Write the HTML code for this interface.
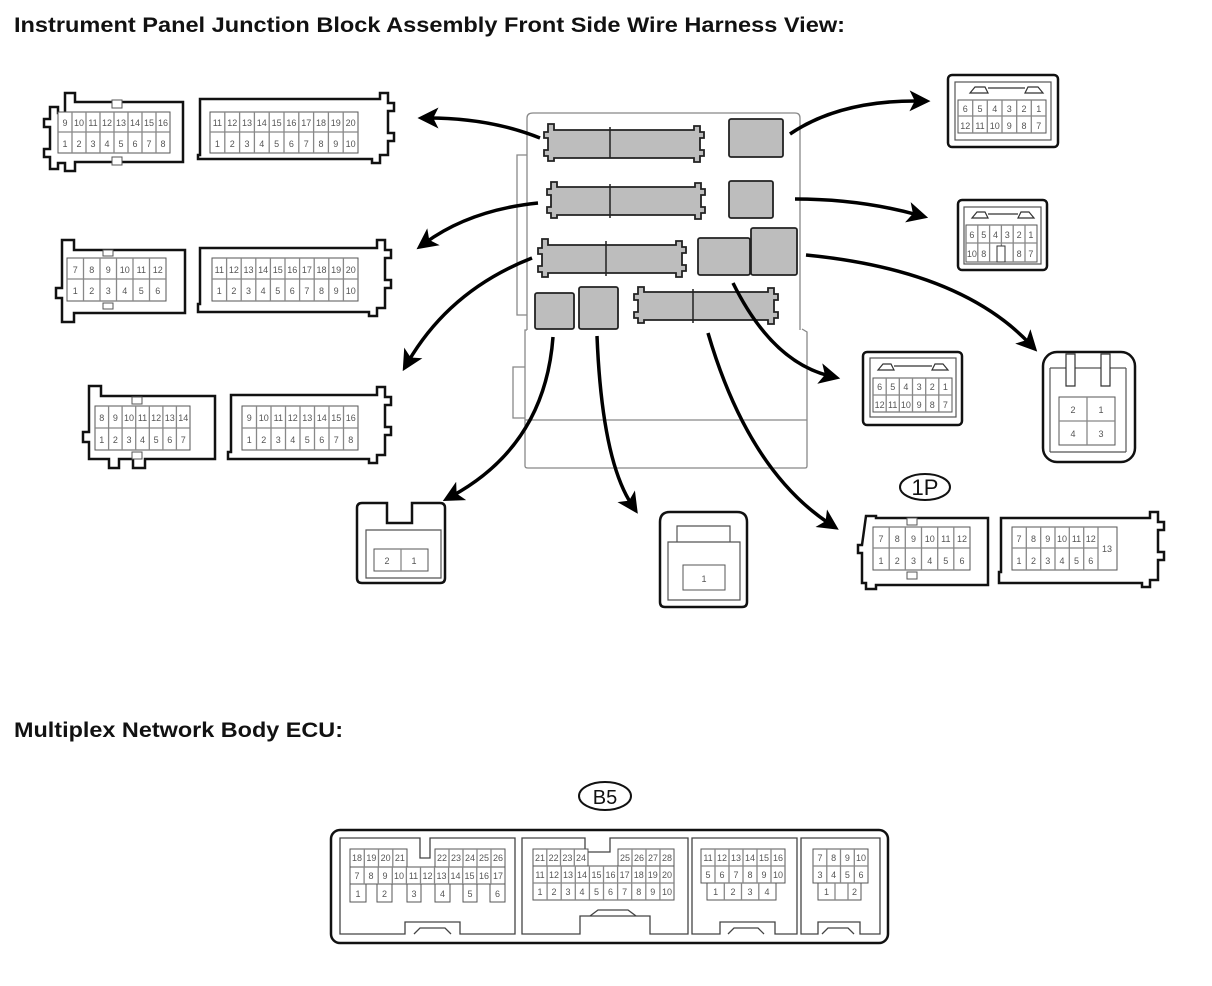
<!DOCTYPE html>
<html><head><meta charset="utf-8"><style>
html,body{margin:0;padding:0;background:#fff}
svg{display:block}
.t{font-family:"Liberation Sans",sans-serif;font-weight:bold;font-size:21px;fill:#111}
.c{font-family:"Liberation Sans",sans-serif;font-size:9px;fill:#555;text-anchor:middle}
.o{fill:#fff;stroke:#111;stroke-width:2.5}
.g{fill:#fff;stroke:#555;stroke-width:1}
.s{fill:#bdbdbd;stroke:#222;stroke-width:1.8}
.a{fill:none;stroke:#000;stroke-width:3.5;marker-end:url(#ar)}
.l{fill:none;stroke:#888;stroke-width:1.3}
</style></head><body>
<svg width="1212" height="986" viewBox="0 0 1212 986" xmlns="http://www.w3.org/2000/svg">
<defs>
<marker id="ar" markerWidth="6" markerHeight="6" refX="3" refY="3" orient="auto" markerUnits="strokeWidth"><path d="M0,0 L6,3 L0,6 L1.5,3 z" fill="#000"/></marker>
</defs>

<text x="14" y="32" class="t" textLength="831" lengthAdjust="spacingAndGlyphs">Instrument Panel Junction Block Assembly Front Side Wire Harness View:</text>
<text x="14" y="737" class="t" textLength="329" lengthAdjust="spacingAndGlyphs">Multiplex Network Body ECU:</text>

<!-- ROW 1 left -->
<path class="o" d="M65,93 h10 v9 h108 v60 h-108 v9 h-10 v-8 h-7 v6 h-8 v-12 h-6 v-8 h6 v-22 h-6 v-8 h6 v-12 h8 v6 h7 z"/>
<rect class="g" x="58" y="112" width="112" height="41"/>
<path class="l" d="M58,132 H170 M72,112 V153 M86,112 V153 M100,112 V153 M114,112 V153 M128,112 V153 M142,112 V153 M156,112 V153"/>
<rect class="g" x="112" y="100" width="10" height="8"/><rect class="g" x="112" y="157" width="10" height="8"/>
<g class="c"><text x="65" y="126">9</text><text x="79" y="126">10</text><text x="93" y="126">11</text><text x="107" y="126">12</text><text x="121" y="126">13</text><text x="135" y="126">14</text><text x="149" y="126">15</text><text x="163" y="126">16</text>
<text x="65" y="147">1</text><text x="79" y="147">2</text><text x="93" y="147">3</text><text x="107" y="147">4</text><text x="121" y="147">5</text><text x="135" y="147">6</text><text x="149" y="147">7</text><text x="163" y="147">8</text></g>
<!-- ROW 1 right -->
<path class="o" d="M200,99 H380 v-6 h8 v10 h6 v8 h-6 v22 h6 v8 h-6 v14 h-8 v8 h-8 v-4 H198 V155 H200 Z"/>
<rect class="g" x="210" y="112" width="148" height="41"/>
<path class="l" d="M210,132 H358 M224.8,112V153 M239.6,112V153 M254.4,112V153 M269.2,112V153 M284,112V153 M298.8,112V153 M313.6,112V153 M328.4,112V153 M343.2,112V153"/>
<g class="c"><text x="217.4" y="126">11</text><text x="232.2" y="126">12</text><text x="247" y="126">13</text><text x="261.8" y="126">14</text><text x="276.6" y="126">15</text><text x="291.4" y="126">16</text><text x="306.2" y="126">17</text><text x="321" y="126">18</text><text x="335.8" y="126">19</text><text x="350.6" y="126">20</text>
<text x="217.4" y="147">1</text><text x="232.2" y="147">2</text><text x="247" y="147">3</text><text x="261.8" y="147">4</text><text x="276.6" y="147">5</text><text x="291.4" y="147">6</text><text x="306.2" y="147">7</text><text x="321" y="147">8</text><text x="335.8" y="147">9</text><text x="350.6" y="147">10</text></g>

<!-- ROW 2 left -->
<path class="o" d="M62,240 h12 v10 h111 v63 h-111 v9 h-12 v-24 h-6 v-10 h6 z"/>
<rect class="g" x="67" y="258" width="99" height="43"/>
<path class="l" d="M67,279 H166 M83.5,258V301 M100,258V301 M116.5,258V301 M133,258V301 M149.5,258V301"/>
<rect class="g" x="103" y="250" width="10" height="6"/><rect class="g" x="103" y="303" width="10" height="6"/>
<g class="c"><text x="75.3" y="273">7</text><text x="91.8" y="273">8</text><text x="108.3" y="273">9</text><text x="124.8" y="273">10</text><text x="141.3" y="273">11</text><text x="157.8" y="273">12</text>
<text x="75.3" y="294">1</text><text x="91.8" y="294">2</text><text x="108.3" y="294">3</text><text x="124.8" y="294">4</text><text x="141.3" y="294">5</text><text x="157.8" y="294">6</text></g>
<!-- ROW 2 right -->
<path class="o" d="M200,248 H377 v-8 h8 v10 h6 v8 h-6 v22 h6 v8 h-6 v20 h-8 v8 h-8 v-4 H198 V304 H200 Z"/>
<rect class="g" x="212" y="258" width="146" height="43"/>
<path class="l" d="M212,279 H358 M226.6,258V301 M241.2,258V301 M255.8,258V301 M270.4,258V301 M285,258V301 M299.6,258V301 M314.2,258V301 M328.8,258V301 M343.4,258V301"/>
<g class="c"><text x="219.3" y="273">11</text><text x="233.9" y="273">12</text><text x="248.5" y="273">13</text><text x="263.1" y="273">14</text><text x="277.7" y="273">15</text><text x="292.3" y="273">16</text><text x="306.9" y="273">17</text><text x="321.5" y="273">18</text><text x="336.1" y="273">19</text><text x="350.7" y="273">20</text>
<text x="219.3" y="294">1</text><text x="233.9" y="294">2</text><text x="248.5" y="294">3</text><text x="263.1" y="294">4</text><text x="277.7" y="294">5</text><text x="292.3" y="294">6</text><text x="306.9" y="294">7</text><text x="321.5" y="294">8</text><text x="336.1" y="294">9</text><text x="350.7" y="294">10</text></g>

<!-- ROW 3 left -->
<path class="o" d="M89,386 H101 V396 H215 V459 H145 V468 H133 V459 H119 V468 H109 V459 H89 V442 H83 V432 H89 Z"/>
<rect class="g" x="95" y="406" width="95" height="44"/>
<path class="l" d="M95,428 H190 M108.6,406V450 M122.1,406V450 M135.7,406V450 M149.3,406V450 M162.9,406V450 M176.4,406V450"/>
<rect class="g" x="132" y="397" width="10" height="7"/><rect class="g" x="132" y="452" width="10" height="7"/>
<g class="c"><text x="101.8" y="421">8</text><text x="115.4" y="421">9</text><text x="129" y="421">10</text><text x="142.5" y="421">11</text><text x="156.1" y="421">12</text><text x="169.7" y="421">13</text><text x="183.2" y="421">14</text>
<text x="101.8" y="443">1</text><text x="115.4" y="443">2</text><text x="129" y="443">3</text><text x="142.5" y="443">4</text><text x="156.1" y="443">5</text><text x="169.7" y="443">6</text><text x="183.2" y="443">7</text></g>
<!-- ROW 3 right -->
<path class="o" d="M231,395 H377 v-8 h8 v10 h6 v8 h-6 v22 h6 v8 h-6 v20 h-8 v8 h-8 v-4 H228 V452 H231 Z"/>
<rect class="g" x="242" y="406" width="116" height="44"/>
<path class="l" d="M242,428 H358 M256.5,406V450 M271,406V450 M285.5,406V450 M300,406V450 M314.5,406V450 M329,406V450 M343.5,406V450"/>
<g class="c"><text x="249.3" y="421">9</text><text x="263.8" y="421">10</text><text x="278.3" y="421">11</text><text x="292.8" y="421">12</text><text x="307.3" y="421">13</text><text x="321.8" y="421">14</text><text x="336.3" y="421">15</text><text x="350.8" y="421">16</text>
<text x="249.3" y="443">1</text><text x="263.8" y="443">2</text><text x="278.3" y="443">3</text><text x="292.8" y="443">4</text><text x="307.3" y="443">5</text><text x="321.8" y="443">6</text><text x="336.3" y="443">7</text><text x="350.8" y="443">8</text></g>

<!-- JUNCTION BLOCK -->
<path d="M533,113 H795 Q800,113 800,118 V330" fill="none" stroke="#888" stroke-width="1.3"/>
<path d="M533,113 Q527,113 527,118 V330" fill="none" stroke="#888" stroke-width="1.3"/>
<path d="M527,330 H525 V466 Q525,468 528,468 H805 Q807,468 807,466 V332 L802,329" fill="none" stroke="#888" stroke-width="1.3"/>
<path d="M525,420 H807" stroke="#888" stroke-width="1.3"/>
<path d="M527,155 H517 V315 H527" fill="none" stroke="#888" stroke-width="1.3"/>
<path d="M525,367 H513 V418 H525" fill="none" stroke="#888" stroke-width="1.3"/>
<g>
<path class="s" d="M548,124 h6 v6 h140 v-4 h6 v6 h4 v6 h-4 v12 h4 v6 h-4 v6 h-6 v-4 h-140 v3 h-6 v-5 h-4 v-6 h4 v-12 h-4 v-6 h4 z"/>
<rect class="s" x="729" y="119" width="54" height="38" rx="2"/>
<path class="s" d="M551,182 h6 v5 h138 v-4 h6 v6 h4 v6 h-4 v12 h4 v6 h-4 v6 h-6 v-4 h-138 v3 h-6 v-5 h-4 v-6 h4 v-12 h-4 v-6 h4 z"/>
<rect class="s" x="729" y="181" width="44" height="37" rx="2"/>
<path class="s" d="M542,239 h6 v6 h128 v-4 h6 v6 h4 v6 h-4 v12 h4 v6 h-4 v6 h-6 v-4 h-128 v4 h-6 v-5 h-4 v-6 h4 v-12 h-4 v-6 h4 z"/>
<rect class="s" x="698" y="238" width="52" height="37" rx="2"/>
<rect class="s" x="751" y="228" width="46" height="47" rx="2"/>
<rect class="s" x="535" y="293" width="39" height="36" rx="2"/>
<rect class="s" x="579" y="287" width="39" height="42" rx="2"/>
<path class="s" d="M638,287 h6 v5 h124 v-4 h6 v6 h4 v6 h-4 v12 h4 v6 h-4 v6 h-6 v-4 h-124 v3 h-6 v-5 h-4 v-6 h4 v-12 h-4 v-6 h4 z"/>
</g>
<path d="M610,127 V158 M610,184 V218 M606,241 V276 M693,289 V323" stroke="#222" stroke-width="1.5"/>

<!-- ARROWS -->
<path class="a" d="M540,138 Q490,118 428,118"/>
<path class="a" d="M538,203 Q470,210 425,243"/>
<path class="a" d="M532,258 Q450,290 408,362"/>
<path class="a" d="M553,337 Q545,445 452,496"/>
<path class="a" d="M597,336 Q602,460 632,505"/>
<path class="a" d="M708,333 Q748,470 830,524"/>
<path class="a" d="M733,283 Q772,362 830,376"/>
<path class="a" d="M806,255 Q960,270 1030,344"/>
<path class="a" d="M790,134 Q840,100 920,101"/>
<path class="a" d="M795,199 Q860,199 918,215"/>

<!-- RIGHT A -->
<rect class="o" x="948" y="75" width="110" height="72" rx="4"/>
<rect x="955" y="82" width="96" height="58" fill="none" stroke="#555" stroke-width="1.2"/>
<path d="M970,93 l5,-6 h10 l3,6 z M1025,93 l3,-6 h10 l5,6 z M988,88 h37" fill="none" stroke="#333" stroke-width="1.2"/>
<rect class="g" x="958" y="100" width="88" height="33"/>
<path class="l" d="M958,116 H1046 M972.7,100V133 M987.3,100V133 M1002,100V133 M1016.7,100V133 M1031.3,100V133"/>
<g class="c"><text x="965.3" y="112">6</text><text x="980" y="112">5</text><text x="994.7" y="112">4</text><text x="1009.3" y="112">3</text><text x="1024" y="112">2</text><text x="1038.7" y="112">1</text>
<text x="965.3" y="129">12</text><text x="980" y="129">11</text><text x="994.7" y="129">10</text><text x="1009.3" y="129">9</text><text x="1024" y="129">8</text><text x="1038.7" y="129">7</text></g>
<!-- RIGHT B -->
<rect class="o" x="958" y="200" width="89" height="70" rx="4"/>
<rect x="964" y="207" width="77" height="57" fill="none" stroke="#555" stroke-width="1.2"/>
<path d="M972,218 l5,-6 h8 l3,6 z M1018,218 l3,-6 h8 l5,6 z M988,214 h30" fill="none" stroke="#333" stroke-width="1.2"/>
<rect class="g" x="966" y="225" width="71" height="37"/>
<path class="l" d="M966,243 H1037 M977.8,225V262 M989.6,225V262 M1001.4,225V262 M1013.2,225V262 M1025,225V262"/>
<rect x="997" y="246" width="8" height="16" fill="#fff" stroke="#333"/>
<g class="c"><text x="971.9" y="238">6</text><text x="983.7" y="238">5</text><text x="995.5" y="238">4</text><text x="1007.3" y="238">3</text><text x="1019.1" y="238">2</text><text x="1030.9" y="238">1</text>
<text x="971.9" y="257">10</text><text x="983.7" y="257">8</text><text x="1019.1" y="257">8</text><text x="1030.9" y="257">7</text></g>
<!-- RIGHT C -->
<rect class="o" x="863" y="352" width="99" height="73" rx="4"/>
<rect x="870" y="358" width="86" height="59" fill="none" stroke="#555" stroke-width="1.2"/>
<path d="M878,370 l5,-6 h8 l3,6 z M932,370 l3,-6 h8 l5,6 z M894,366 h38" fill="none" stroke="#333" stroke-width="1.2"/>
<rect class="g" x="873" y="378" width="79" height="34"/>
<path class="l" d="M873,395 H952 M886.2,378V412 M899.3,378V412 M912.5,378V412 M925.7,378V412 M938.8,378V412"/>
<g class="c"><text x="879.6" y="390">6</text><text x="892.7" y="390">5</text><text x="905.9" y="390">4</text><text x="919.1" y="390">3</text><text x="932.3" y="390">2</text><text x="945.4" y="390">1</text>
<text x="879.6" y="408">12</text><text x="892.7" y="408">11</text><text x="905.9" y="408">10</text><text x="919.1" y="408">9</text><text x="932.3" y="408">8</text><text x="945.4" y="408">7</text></g>
<!-- RIGHT D -->
<rect class="o" x="1043" y="352" width="92" height="110" rx="14"/>
<path d="M1050,368 h76 M1050,452 h76 M1050,368 v84 M1126,368 v84" fill="none" stroke="#555" stroke-width="1.2"/>
<path d="M1066,386 v-32 h9 v32 z M1101,386 v-32 h9 v32 z" fill="#fff" stroke="#333" stroke-width="1.2"/>
<rect class="g" x="1059" y="397" width="56" height="48"/>
<path class="l" d="M1059,421 H1115 M1087,397V445"/>
<g class="c"><text x="1073" y="413">2</text><text x="1101" y="413">1</text><text x="1073" y="437">4</text><text x="1101" y="437">3</text></g>

<!-- 1P -->
<ellipse cx="925" cy="487" rx="25" ry="13" fill="#fff" stroke="#111" stroke-width="2"/>
<text x="925" y="495" font-family="Liberation Sans,sans-serif" font-size="22" text-anchor="middle" fill="#111">1P</text>
<path class="o" d="M866,516 h10 v2 h112 v67 h-112 v4 h-10 v-6 h-4 v-30 h-4 v-8 h4 z"/>
<rect class="g" x="873" y="527" width="97" height="43"/>
<path class="l" d="M873,548 H970 M889.2,527V570 M905.3,527V570 M921.5,527V570 M937.7,527V570 M953.8,527V570"/>
<rect class="g" x="907" y="518" width="10" height="7"/><rect class="g" x="907" y="572" width="10" height="7"/>
<g class="c"><text x="881" y="542">7</text><text x="897.3" y="542">8</text><text x="913.5" y="542">9</text><text x="929.7" y="542">10</text><text x="945.8" y="542">11</text><text x="962" y="542">12</text>
<text x="881" y="564">1</text><text x="897.3" y="564">2</text><text x="913.5" y="564">3</text><text x="929.7" y="564">4</text><text x="945.8" y="564">5</text><text x="962" y="564">6</text></g>
<path class="o" d="M1001,518 H1150 v-6 h8 v10 h6 v8 h-6 v22 h6 v8 h-6 v20 h-8 v7 h-8 v-4 H999 V572 H1001 Z"/>
<rect class="g" x="1012" y="527" width="105" height="43"/>
<path class="l" d="M1012,548 H1098 M1026.3,527V570 M1040.7,527V570 M1055,527V570 M1069.3,527V570 M1083.7,527V570 M1098,527V570"/>
<g class="c"><text x="1019" y="542">7</text><text x="1033.5" y="542">8</text><text x="1047.8" y="542">9</text><text x="1062" y="542">10</text><text x="1076.5" y="542">11</text><text x="1090.8" y="542">12</text><text x="1107" y="552">13</text>
<text x="1019" y="564">1</text><text x="1033.5" y="564">2</text><text x="1047.8" y="564">3</text><text x="1062" y="564">4</text><text x="1076.5" y="564">5</text><text x="1090.8" y="564">6</text></g>

<!-- BOTTOM F -->
<path class="o" d="M362,503 h25 v20 h25 v-20 h28 q5,0 5,5 v70 q0,5 -5,5 h-78 q-5,0 -5,-5 v-70 q0,-5 5,-5 z"/>
<path d="M366,530 h75 v48 h-75 z" fill="none" stroke="#555" stroke-width="1.2"/>
<rect class="g" x="374" y="549" width="54" height="22"/><path class="l" d="M401,549V571"/>
<g class="c"><text x="387" y="564">2</text><text x="414" y="564">1</text></g>
<!-- BOTTOM G -->
<path class="o" d="M660,522 q0,-10 10,-10 h67 q10,0 10,10 v80 q0,5 -5,5 h-77 q-5,0 -5,-5 z"/>
<path d="M668,542 h72 v58 h-72 z M677,542 v-16 h53 v16" fill="none" stroke="#555" stroke-width="1.2"/>
<rect class="g" x="683" y="565" width="42" height="25"/>
<text class="c" x="704" y="582">1</text>

<!-- B5 -->
<ellipse cx="605" cy="796" rx="26" ry="14" fill="#fff" stroke="#111" stroke-width="2"/>
<text x="605" y="804" font-family="Liberation Sans,sans-serif" font-size="20" text-anchor="middle" fill="#111">B5</text>
<rect class="o" x="331" y="830" width="557" height="113" rx="9"/>
<g fill="none" stroke="#444" stroke-width="1.3">
<path d="M340,838 H420 V858 H430 V838 H515 V934 H460 V922 H405 V934 H340 Z"/>
<path d="M414,934 L420,928 H445 L451,934"/>
<path d="M522,838 H585 V852 H610 V838 H688 V934 H650 V916 H580 V934 H522 Z"/>
<path d="M590,916 L598,910 H628 L636,916"/>
<path d="M692,838 H797 V934 H775 V922 H720 V934 H692 Z"/>
<path d="M728,934 L734,928 H758 L764,934"/>
<path d="M801,838 H880 V934 H860 V922 H818 V934 H801 Z"/>
<path d="M822,934 L828,928 H848 L854,934"/>
</g>
<!-- sec1 grid -->
<g class="g"><rect x="350" y="849" width="57" height="18"/><rect x="435" y="849" width="70" height="18"/><rect x="350" y="867" width="155" height="17"/>
<rect x="350" y="884" width="16" height="18"/><rect x="377" y="884" width="15" height="18"/><rect x="407" y="884" width="14" height="18"/><rect x="435" y="884" width="15" height="18"/><rect x="463" y="884" width="14" height="18"/><rect x="490" y="884" width="15" height="18"/></g>
<path class="l" d="M364.3,849V867 M378.5,849V867 M392.8,849V867 M449,849V867 M463,849V867 M477,849V867 M491,849V867 M364.1,867V884 M378.2,867V884 M392.3,867V884 M406.4,867V884 M420.5,867V884 M434.5,867V884 M448.6,867V884 M462.7,867V884 M476.8,867V884 M490.9,867V884"/>
<g class="c" font-size="8"><text x="357" y="861">18</text><text x="371.4" y="861">19</text><text x="385.6" y="861">20</text><text x="399.9" y="861">21</text><text x="442" y="861">22</text><text x="456" y="861">23</text><text x="470" y="861">24</text><text x="484" y="861">25</text><text x="498" y="861">26</text>
<text x="357" y="879">7</text><text x="371" y="879">8</text><text x="385" y="879">9</text><text x="399" y="879">10</text><text x="413.5" y="879">11</text><text x="427.5" y="879">12</text><text x="441.5" y="879">13</text><text x="455.5" y="879">14</text><text x="469.5" y="879">15</text><text x="484" y="879">16</text><text x="498" y="879">17</text>
<text x="358" y="897">1</text><text x="384.5" y="897">2</text><text x="414" y="897">3</text><text x="442.5" y="897">4</text><text x="470" y="897">5</text><text x="497.5" y="897">6</text></g>
<!-- sec2 grid -->
<g class="g"><rect x="533" y="849" width="55" height="17"/><rect x="618" y="849" width="56" height="17"/><rect x="533" y="866" width="141" height="34"/></g>
<path class="l" d="M533,883 H674 M546.8,849V866 M560.5,849V866 M574.3,849V866 M632,849V866 M646,849V866 M660,849V866 M547.1,866V900 M561.2,866V900 M575.3,866V900 M589.4,866V900 M603.5,866V900 M617.6,866V900 M631.7,866V900 M645.8,866V900 M659.9,866V900"/>
<g class="c" font-size="8"><text x="540" y="861">21</text><text x="553.6" y="861">22</text><text x="567.4" y="861">23</text><text x="581" y="861">24</text><text x="625" y="861">25</text><text x="639" y="861">26</text><text x="653" y="861">27</text><text x="667" y="861">28</text>
<text x="540" y="878">11</text><text x="554" y="878">12</text><text x="568" y="878">13</text><text x="582" y="878">14</text><text x="596.5" y="878">15</text><text x="610.5" y="878">16</text><text x="624.6" y="878">17</text><text x="638.7" y="878">18</text><text x="652.8" y="878">19</text><text x="667" y="878">20</text>
<text x="540" y="895">1</text><text x="554" y="895">2</text><text x="568" y="895">3</text><text x="582" y="895">4</text><text x="596.5" y="895">5</text><text x="610.5" y="895">6</text><text x="624.6" y="895">7</text><text x="638.7" y="895">8</text><text x="652.8" y="895">9</text><text x="667" y="895">10</text></g>
<!-- sec3 grid -->
<g class="g"><rect x="701" y="849" width="84" height="34"/><rect x="707" y="883" width="69" height="17"/></g>
<path class="l" d="M701,866 H785 M715,849V883 M729,849V883 M743,849V883 M757,849V883 M771,849V883 M724.3,883V900 M741.5,883V900 M758.8,883V900"/>
<g class="c" font-size="8"><text x="708" y="861">11</text><text x="722" y="861">12</text><text x="736" y="861">13</text><text x="750" y="861">14</text><text x="764" y="861">15</text><text x="778" y="861">16</text>
<text x="708" y="878">5</text><text x="722" y="878">6</text><text x="736" y="878">7</text><text x="750" y="878">8</text><text x="764" y="878">9</text><text x="778" y="878">10</text>
<text x="715.6" y="895">1</text><text x="733" y="895">2</text><text x="750" y="895">3</text><text x="767" y="895">4</text></g>
<!-- sec4 grid -->
<g class="g"><rect x="813" y="849" width="55" height="34"/><rect x="818" y="883" width="43" height="17"/></g>
<path class="l" d="M813,866 H868 M826.8,849V883 M840.5,849V883 M854.3,849V883 M835,883V900 M848,883V900"/>
<g class="c" font-size="8"><text x="820" y="861">7</text><text x="833.6" y="861">8</text><text x="847.4" y="861">9</text><text x="861" y="861">10</text>
<text x="820" y="878">3</text><text x="833.6" y="878">4</text><text x="847.4" y="878">5</text><text x="861" y="878">6</text>
<text x="826.5" y="895">1</text><text x="854.5" y="895">2</text></g>
</svg>
</body></html>
